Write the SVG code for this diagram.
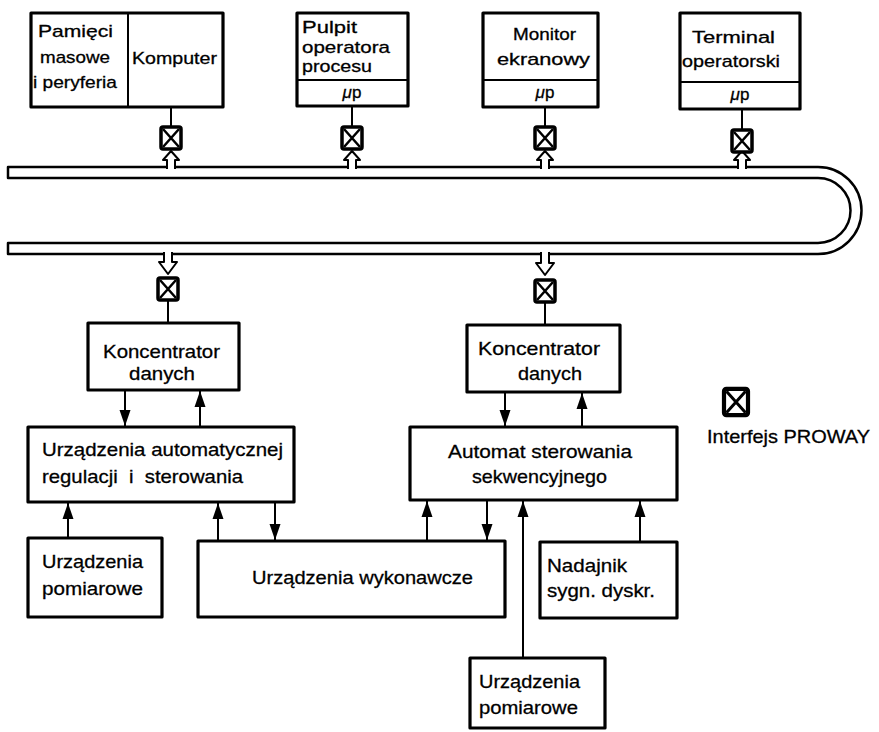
<svg xmlns="http://www.w3.org/2000/svg" width="879" height="732" viewBox="0 0 879 732">
<style>
.box{fill:#fff;stroke:#000;stroke-width:3.2;stroke-linejoin:round}
.div{stroke:#000;stroke-width:2;fill:none}
.t{font-family:"Liberation Sans","Noto Sans",Arial,sans-serif;font-size:19px;fill:#000;stroke:#000;stroke-width:0.3}
.ts{font-family:"Liberation Sans","Noto Sans",Arial,sans-serif;font-size:17px;fill:#000;stroke:#000;stroke-width:0.3}
.mu{font-family:"Liberation Sans","Noto Sans",Arial,sans-serif;font-size:17px;fill:#000;text-anchor:middle;stroke:#000;stroke-width:0.3}
.c{stroke:#000;stroke-width:2;fill:none}
.bus{fill:none;stroke:#000;stroke-width:2.5;stroke-linejoin:round}
.tap{fill:#fff;stroke:#000;stroke-width:2;stroke-linejoin:round}
.ifc{fill:#fff;stroke:#000;stroke-width:3.5}
.x{stroke:#000;stroke-width:2.5}
</style>
<defs>
<marker id="ah" markerUnits="userSpaceOnUse" markerWidth="16" markerHeight="12" refX="16" refY="6" orient="auto">
<path d="M0,0.5 L16,6 L0,11.5 z" fill="#000"/>
</marker>
<g id="ifsym">
<rect class="ifc" x="-10" y="-11" width="20" height="22" rx="2"/>
<path class="x" d="M-8,-9 L8,9 M8,-9 L-8,9"/>
</g>
</defs>

<g id="connectors">
<path class="bus" d="M8,167 H818 A43.5,43.5 0 0 1 818,254 H8 V243 H818 A32.5,32.5 0 0 0 818,178 H8 Z"/>
<path class="tap" d="M167,169 V160 H163 L171,151 L179,160 H175 V169"/>
<path class="tap" d="M348,169 V160 H344 L352,151 L360,160 H356 V169"/>
<path class="tap" d="M541,169 V160 H537 L545,151 L553,160 H549 V169"/>
<path class="tap" d="M738,169 V160 H734 L742,151 L750,160 H746 V169"/>
<path class="tap" d="M164,252 V262 H159 L168,274 L177,262 H172 V252"/>
<path class="tap" d="M541,252 V263 H536 L545,275 L554,263 H549 V252"/>
<path class="c" d="M171,107 V126 M352,106 V126 M545,107 V126 M742,109 V129 M168,301 V323 M545,303 V325"/>
<path class="c" marker-end="url(#ah)" d="M125,390 V426"/>
<path class="c" marker-end="url(#ah)" d="M200,427 V391"/>
<path class="c" marker-end="url(#ah)" d="M505,392 V426"/>
<path class="c" marker-end="url(#ah)" d="M582,427 V393"/>
<path class="c" marker-end="url(#ah)" d="M68,538 V503"/>
<path class="c" marker-end="url(#ah)" d="M218,541 V503"/>
<path class="c" marker-end="url(#ah)" d="M275,502 V540"/>
<path class="c" marker-end="url(#ah)" d="M427,541 V501"/>
<path class="c" marker-end="url(#ah)" d="M487,500 V540"/>
<path class="c" marker-end="url(#ah)" d="M523,658 V501"/>
<path class="c" marker-end="url(#ah)" d="M640,542 V501"/>
</g>

<g id="if1"><use href="#ifsym" x="171" y="138"/></g>
<g id="if2"><use href="#ifsym" x="352" y="138"/></g>
<g id="if3"><use href="#ifsym" x="545" y="138"/></g>
<g id="if4"><use href="#ifsym" x="742" y="141"/></g>
<g id="if5"><use href="#ifsym" x="168" y="289"/></g>
<g id="if6"><use href="#ifsym" x="545" y="291"/></g>

<g id="komputer">
<rect class="box" x="31" y="13" width="192" height="94"/>
<line class="div" x1="128" y1="13" x2="128" y2="107"/>
<text class="ts" x="38" y="37" textLength="75" lengthAdjust="spacingAndGlyphs">Pamięci</text>
<text class="ts" x="40" y="63" textLength="70" lengthAdjust="spacingAndGlyphs">masowe</text>
<text class="ts" x="33" y="88" textLength="84" lengthAdjust="spacingAndGlyphs">i peryferia</text>
<text class="ts" x="132" y="64" textLength="85" lengthAdjust="spacingAndGlyphs">Komputer</text>
</g>

<g id="pulpit">
<rect class="box" x="297" y="13" width="111" height="93"/>
<line class="div" x1="297" y1="80" x2="408" y2="80"/>
<text class="ts" x="302" y="33" textLength="55" lengthAdjust="spacingAndGlyphs">Pulpit</text>
<text class="ts" x="302" y="53" textLength="88" lengthAdjust="spacingAndGlyphs">operatora</text>
<text class="ts" x="302" y="72" textLength="70" lengthAdjust="spacingAndGlyphs">procesu</text>
<text class="mu" x="352" y="98"><tspan font-style="italic">μ</tspan>p</text>
</g>

<g id="monitor">
<rect class="box" x="483" y="13" width="115" height="94"/>
<line class="div" x1="483" y1="80" x2="598" y2="80"/>
<text class="ts" x="513" y="40" textLength="63" lengthAdjust="spacingAndGlyphs">Monitor</text>
<text class="ts" x="497" y="65" textLength="93" lengthAdjust="spacingAndGlyphs">ekranowy</text>
<text class="mu" x="545" y="98"><tspan font-style="italic">μ</tspan>p</text>
</g>

<g id="terminal">
<rect class="box" x="680" y="13" width="120" height="96"/>
<line class="div" x1="680" y1="82" x2="800" y2="82"/>
<text class="ts" x="692" y="43" textLength="83" lengthAdjust="spacingAndGlyphs">Terminal</text>
<text class="ts" x="682" y="67" textLength="98" lengthAdjust="spacingAndGlyphs">operatorski</text>
<text class="mu" x="740" y="100"><tspan font-style="italic">μ</tspan>p</text>
</g>

<g id="konc1">
<rect class="box" x="88" y="323" width="151" height="67"/>
<text class="t" x="103" y="358" textLength="117" lengthAdjust="spacingAndGlyphs">Koncentrator</text>
<text class="t" x="129" y="380" textLength="66" lengthAdjust="spacingAndGlyphs">danych</text>
</g>

<g id="konc2">
<rect class="box" x="467" y="325" width="153" height="67"/>
<text class="t" x="478" y="355" textLength="122" lengthAdjust="spacingAndGlyphs">Koncentrator</text>
<text class="t" x="518" y="380" textLength="64" lengthAdjust="spacingAndGlyphs">danych</text>
</g>

<g id="regulacja">
<rect class="box" x="28" y="427" width="266" height="75"/>
<text class="t" x="42" y="456" textLength="241" lengthAdjust="spacingAndGlyphs">Urządzenia automatycznej</text>
<text class="t" x="42" y="483" textLength="201" lengthAdjust="spacingAndGlyphs" xml:space="preserve">regulacji  i  sterowania</text>
</g>

<g id="automat">
<rect class="box" x="410" y="427" width="267" height="73"/>
<text class="t" x="448" y="458" textLength="184" lengthAdjust="spacingAndGlyphs">Automat sterowania</text>
<text class="t" x="472" y="483" textLength="135" lengthAdjust="spacingAndGlyphs">sekwencyjnego</text>
</g>

<g id="pomiar1">
<rect class="box" x="28" y="538" width="134" height="79"/>
<text class="t" x="42" y="568" textLength="101" lengthAdjust="spacingAndGlyphs">Urządzenia</text>
<text class="t" x="42" y="595" textLength="101" lengthAdjust="spacingAndGlyphs">pomiarowe</text>
</g>

<g id="wykonawcze">
<rect class="box" x="198" y="541" width="307" height="76"/>
<text class="t" x="252" y="584" textLength="221" lengthAdjust="spacingAndGlyphs">Urządzenia wykonawcze</text>
</g>

<g id="nadajnik">
<rect class="box" x="540" y="542" width="137" height="76"/>
<text class="t" x="547" y="572" textLength="80" lengthAdjust="spacingAndGlyphs">Nadajnik</text>
<text class="t" x="547" y="597" textLength="108" lengthAdjust="spacingAndGlyphs">sygn. dyskr.</text>
</g>

<g id="pomiar2">
<rect class="box" x="470" y="658" width="135" height="70"/>
<text class="t" x="479" y="688" textLength="101" lengthAdjust="spacingAndGlyphs">Urządzenia</text>
<text class="t" x="479" y="714" textLength="99" lengthAdjust="spacingAndGlyphs">pomiarowe</text>
</g>

<g id="legend">
<use href="#ifsym" transform="translate(736,402) scale(1.2)"/>
<text class="t" x="707" y="443" textLength="163" lengthAdjust="spacingAndGlyphs">Interfejs PROWAY</text>
</g>
</svg>
